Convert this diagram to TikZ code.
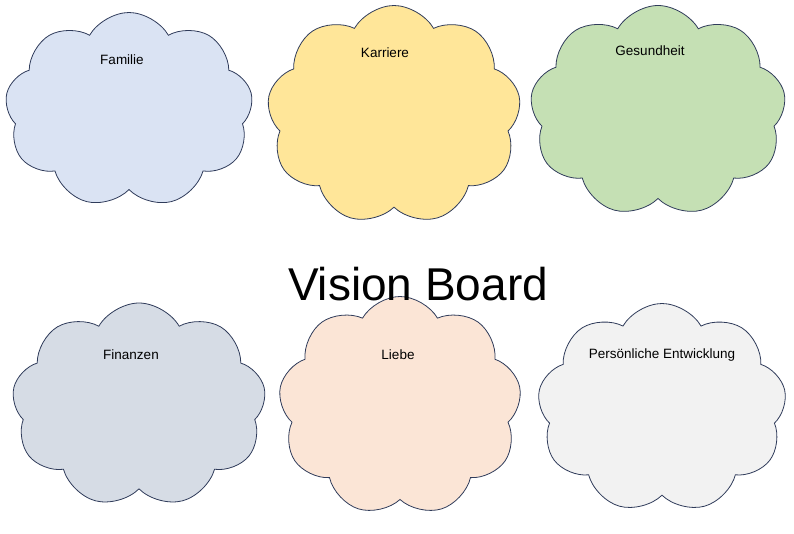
\documentclass[tikz,border=0pt]{standalone}
\usepackage{fontspec}
\setmainfont{Liberation Sans}
\usetikzlibrary{shapes.symbols}
\definecolor{edge}{HTML}{2F3B5A}
\definecolor{cA}{HTML}{DAE3F3}
\definecolor{cB}{HTML}{FFE699}
\definecolor{cC}{HTML}{C5E0B4}
\definecolor{cD}{HTML}{D6DCE5}
\definecolor{cE}{HTML}{FBE5D6}
\definecolor{cF}{HTML}{F2F2F2}
\tikzset{cl/.style={cloud, cloud puffs=9, cloud puff arc=120, draw=edge, line width=0.8pt, inner sep=0pt, minimum width=#1},
lbl/.style={font=\fontsize{13.5}{16}\selectfont}}
\begin{document}
\begin{tikzpicture}[x=1pt,y=-1pt]
\useasboundingbox (0,0) rectangle (794,534);
\node[cl=248pt, minimum height=195pt, fill=cA] (c1) at (129,110) {};
\node[cl=254pt, minimum height=219pt, fill=cB] (c2) at (394,115) {};
\node[cl=256pt, minimum height=211pt, fill=cC] (c3) at (658,111) {};
\node[cl=254pt, minimum height=204pt, fill=cD] (c4) at (139,405) {};
\node[cl=243pt, minimum height=219pt, fill=cE] (c5) at (400,406) {};
\node[cl=249pt, minimum height=209pt, fill=cF] (c6) at (662,408) {};
\node[lbl] (t1) at (122,60) {Familie};
\node[lbl] (t2) at (385,53) {Karriere};
\node[lbl] (t3) at (650,51) {Gesundheit};
\node[lbl] (t4) at (131,355) {Finanzen};
\node[lbl] (t5) at (398,355) {Liebe};
\node[lbl] (t6) at (662,355) {Persönliche Entwicklung};
\node[font=\fontsize{46}{54}\selectfont] (title) at (418,284) {Vision Board};
\end{tikzpicture}
\end{document}
